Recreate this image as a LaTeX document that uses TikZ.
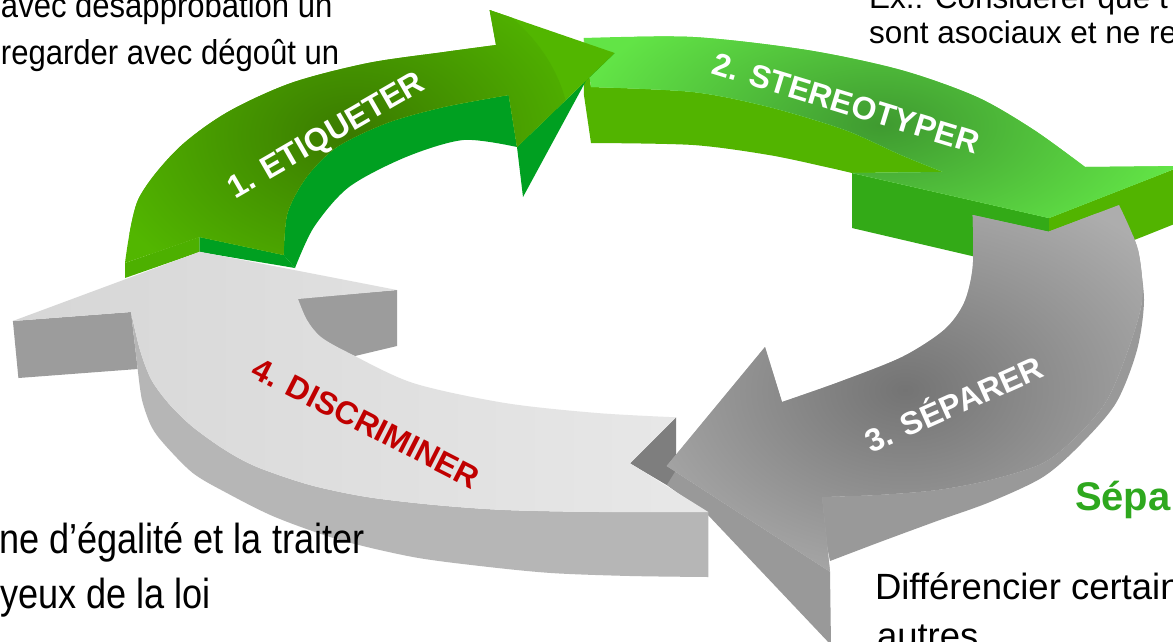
\documentclass[tikz,border=0pt]{standalone}
\usepackage{fontspec}
\setmainfont{Liberation Sans}
\newfontfamily\narrowfont[FakeStretch=0.86]{Liberation Sans}
\newfontfamily\tlfont[FakeStretch=0.9]{Liberation Sans}
\definecolor{gA}{HTML}{52B600}
\definecolor{gAd}{HTML}{3A7A00}
\definecolor{gWall}{HTML}{00A021}
\definecolor{gEnd}{HTML}{4DB000}
\definecolor{gB}{HTML}{62E446}
\definecolor{gBd}{HTML}{3F9A30}
\definecolor{gBwall}{HTML}{52B400}
\definecolor{gBface}{HTML}{33AA17}
\definecolor{grC}{HTML}{ADADAD}
\definecolor{grCd}{HTML}{747474}
\definecolor{grCwall}{HTML}{999999}
\definecolor{grCface}{HTML}{999999}
\definecolor{grDl}{HTML}{D6D6D6}
\definecolor{grDr}{HTML}{E8E8E8}
\definecolor{grDwall}{HTML}{B6B6B6}
\definecolor{grDface}{HTML}{9C9C9C}
\definecolor{notchgray}{HTML}{7E7E7E}
\definecolor{sepgreen}{HTML}{2EA81E}
\definecolor{discred}{HTML}{C00000}
\begin{document}
\begin{tikzpicture}[x=1pt,y=-1pt,
  body/.style={anchor=base west, inner sep=0pt, outer sep=0pt, text=black},
  lab/.style={inner sep=0pt, font={\fontsize{32}{36}\selectfont\bfseries}}]
\useasboundingbox (0,0) rectangle (1173,641);
\clip (0,0) rectangle (1173,641);
\fill[white] (0,0) rectangle (1173,641);

% ---------- Arrow 2 (green, top right) ----------
\fill[gBwall] (583.8,38) -- (591,87) -- (591,143) -- (583.8,94) -- cycle;
\fill[gBwall] plot[smooth] coordinates {(591,87) (693,92) (769,107) (845,130) (901,155) (943,172)} -- (852,173)
  -- plot[smooth] coordinates {(852,173) (826,167) (769,155) (693,145) (591,143)} -- cycle;
\fill[gBface] (852,173) -- (1049,218) -- (1049,274) -- (852,228) -- cycle;
\fill[gBwall] (1049,218) -- (1182,166) -- (1182,221) -- (1049,274) -- cycle;
\fill[gB, path picture={\shade[inner color=gBd, outer color=gB] (880,125) ellipse (300 and 150);}]
  (583.8,38) -- plot[smooth] coordinates {(583.8,38) (693,37) (807,50) (901,70) (977,97) (1034,130) (1085,167)}
  -- (1182,166) -- (1049,218) -- (852,173) -- (943,172)
  -- plot[smooth] coordinates {(943,172) (901,155) (845,130) (769,107) (693,92) (591,87)} -- cycle;

% ---------- Arrow 3 (grey, right) ----------
\fill[grCface] (666.7,466) -- (830,571.7) -- (831,645) -- (708,515) -- (666.7,485) -- cycle;
\fill[grCwall] plot[smooth] coordinates {(1138,250) (1142,300) (1128,350) (1107,400) (1078,435) (1043,463) (990,480) (937,490) (877,495) (817,497)}
  -- (830,561)
  -- plot[smooth] coordinates {(830,561) (880,542) (937,521) (990,502) (1043,477) (1080,445) (1116,403) (1137,350) (1144,300) (1138,250)} -- cycle;
\fill[notchgray] (630,463.3) -- (676,417.3) -- (676,470) -- (666.7,485) -- cycle;
\fill[grC, path picture={\shade[inner color=grCd, outer color=grC] (905,390) ellipse (320 and 220);}]
  (972.7,215) -- (1048.5,231.7) -- (1119,205)
  -- plot[smooth] coordinates {(1119,205) (1138,250) (1142,300) (1128,350) (1107,400) (1078,435) (1043,463) (990,480) (937,490) (877,495) (822,497)}
  -- (830,571.7) -- (666.7,466) -- (765,347) -- (782,402)
  -- plot[smooth] coordinates {(782,402) (839,382) (902,357) (944,330) (964,303) (972.7,267) (972.7,215)} -- cycle;

% ---------- Arrow 1 (green, top left) ----------
\fill[gWall] plot[smooth] coordinates {(508.7,95) (444,107) (387,123) (337,147) (306.6,177) (287.5,213) (283.7,255)}
  -- (295,268) -- plot[smooth] coordinates {(295,268) (314,227) (349,187) (406,157) (463.6,140) (517,147)} -- cycle;
\fill[gWall] (517,147) -- (614.7,53) -- (595.6,63) -- (523,197) -- cycle;
\fill[gEnd] (125,263) -- (199.5,237) -- (199.5,252) -- (125,278) -- cycle;
\fill[gWall] (199.5,237) -- (283.7,255) -- (295,268) -- (199.5,252) -- cycle;
\fill[gA, path picture={\shade[inner color=gAd, outer color=gA] (330,135) ellipse (240 and 180);}]
  (125,263) -- plot[smooth] coordinates {(125,263) (138,200) (176.5,150) (226,113) (291,83) (368,63) (444,52) (496,45)}
  -- (489.6,10) -- (614.7,53) -- (517,147) -- (508.7,95)
  -- plot[smooth] coordinates {(508.7,95) (444,107) (387,123) (337,147) (306.6,177) (287.5,213) (283.7,255)}
  -- (199.5,237) -- cycle;

% ---------- Arrow 4 (light grey, bottom left) ----------
\fill[grDface] (12.9,321) -- (131,312) -- (137.7,369) -- (18.4,378) -- cycle;
\fill[grDface] (290,299) -- (397,290) -- (397,346) -- (355,356) -- (315,340) -- (295,318) -- cycle;
\fill[grDwall] plot[smooth] coordinates {(131,312) (140,350) (151.5,380) (170,405) (192.8,427) (225,450) (257,467) (310,485) (367,497) (435,505) (505,510) (600,512) (708.3,512)}
  -- (708.3,577)
  -- plot[smooth] coordinates {(708.3,577) (630,576) (551,573) (480,566) (413,557) (340,540) (275,517) (225,492) (192.8,473) (165,445) (151.5,426.7) (142,400) (137.7,369)} -- cycle;
\shade[left color=grDl, right color=grDr]
  (199.7,251.7) -- (397,290) -- (298,299)
  -- plot[smooth] coordinates {(298,299) (307,320) (321,337) (349,353) (413,383) (505,403) (597,413) (676,417.3)}
  -- (630,463.3) -- (708.3,512)
  -- plot[smooth] coordinates {(708.3,512) (600,512) (505,510) (435,505) (367,497) (310,485) (257,467) (225,450) (192.8,427) (170,405) (151.5,380) (140,350) (131,312)}
  -- (12.9,321) -- cycle;

% ---------- Labels on the arrows ----------
\node[lab, text=white, rotate=30] (l1) at (327,137) {1. ETIQUETER};
\node[lab, text=white, rotate=-17] (l2) at (846,103) {2. STEREOTYPER};
\node[lab, text=white, rotate=24] (l3) at (953,402) {3. SÉPARER};
\node[lab, text=discred, rotate=-27] (l4) at (366,423) {4. DISCRIMINER};

% ---------- Surrounding texts ----------
\node[body, font={\tlfont\fontsize{34.5}{40}\selectfont}] (tl1) at (1,17) {avec désapprobation un};
\node[body, font={\tlfont\fontsize{34.5}{40}\selectfont}] (tl2) at (1,64) {regarder avec dégoût un};
\node[body, font={\fontsize{31.5}{36}\selectfont}] (tr1) at (869,8) {Ex.: Considérer que t};
\node[body, font={\fontsize{31.5}{36}\selectfont}] (tr2) at (869,43) {sont asociaux et ne re};
\node[body, font={\narrowfont\fontsize{42}{48}\selectfont}] (bl1) at (-1,553) {ne d’égalité et la traiter};
\node[body, font={\narrowfont\fontsize{42}{48}\selectfont}] (bl2) at (0,608) {yeux de la loi};
\node[body, font={\fontsize{40}{46}\selectfont\bfseries}, text=sepgreen] (sep) at (1075,510) {Sépa};
\node[body, font={\fontsize{36.5}{42}\selectfont}] (br1) at (875,599) {Différencier certain};
\node[body, font={\fontsize{36.5}{42}\selectfont}] (br2) at (877,648) {autres};
\end{tikzpicture}
\end{document}
